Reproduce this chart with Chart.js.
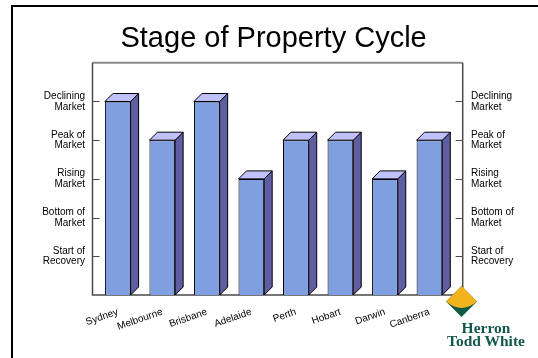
<!DOCTYPE html>
<html>
<head>
<meta charset="utf-8">
<title>Stage of Property Cycle</title>
<script src="https://cdn.jsdelivr.net/npm/chart.js@4/dist/chart.umd.min.js"></script>
<style>
  html, body { margin: 0; padding: 0; background: #fff; overflow: hidden; }
  #wrap { position: relative; width: 538px; height: 358px; overflow: hidden; }
  #frame { position: absolute; left: 11px; top: 5px; width: 600px; height: 400px; border: 2px solid #000; }
  #cycle { position: absolute; left: 0; top: 0; }
  #logo-mark { position: absolute; left: 446px; top: 286px; }
  #logo-text {
    position: absolute; left: 444px; top: 322px; width: 84px;
    font-family: "Liberation Serif", "DejaVu Serif", serif; font-weight: bold;
    font-size: 15.5px; line-height: 12.5px;
    color: #13594a; text-align: center;
  }
</style>
</head>
<body>
<div id="wrap">
  <div id="frame"></div>
  <canvas id="cycle" width="538" height="358"></canvas>
  <svg id="logo-mark" width="31" height="31" viewBox="0 0 31 31">
    <polygon points="15.5,0 31,15.5 15.5,31 0,15.5" fill="#0f5a45"/>
    <path d="M15.5 0 L31 15.5 Q15.5 28.5 0 15.5 Z" fill="#f3b31e"/>
  </svg>
  <div id="logo-text">Herron<br>Todd White</div>
</div>
<script>
// cities and the cycle stage each one sits at (1 = start of recovery ... 5 = declining)
const cities = ['Sydney', 'Melbourne', 'Brisbane', 'Adelaide', 'Perth', 'Hobart', 'Darwin', 'Canberra'];
const stages = [5, 4, 5, 3, 4, 4, 3, 4];
const stageLabels = [
    ['Start of', 'Recovery'],
    ['Bottom of', 'Market'],
    ['Rising', 'Market'],
    ['Peak of', 'Market'],
    ['Declining', 'Market']
];

const FONT = '"Liberation Sans", Arial, sans-serif';
const DEPTH = 8;              // 3d offset of the bars, px
const FRONT = '#809fe0';
const SIDE = '#5f5ea2';
const TOP = '#c0c0fb';

const stageTick = v => stageLabels[v - 1] || '';

// frame box with inward ticks, plus the side/top faces of each bar
const bars3d = {
    id: 'bars3d',
    beforeDatasetsDraw(chart) {
        const { ctx, chartArea: a, scales: { y } } = chart;
        const left = a.left - 3;
        const right = a.right + DEPTH + 3;
        ctx.save();
        ctx.lineWidth = 2;
        ctx.strokeStyle = '#8a8a8a';
        ctx.beginPath();
        ctx.moveTo(left, a.top);
        ctx.lineTo(right, a.top);
        ctx.stroke();
        ctx.lineWidth = 1.5;
        ctx.strokeStyle = '#4a4a4a';
        ctx.beginPath();
        ctx.moveTo(left, a.top);
        ctx.lineTo(left, a.bottom);
        ctx.lineTo(right, a.bottom);
        ctx.lineTo(right, a.top);
        ctx.stroke();
        ctx.lineWidth = 1;
        ctx.beginPath();
        for (let v = 1; v <= stageLabels.length; v++) {
            const py = Math.round(y.getPixelForValue(v)) + 0.5;
            ctx.moveTo(left, py);
            ctx.lineTo(left + 7, py);
            ctx.moveTo(right, py);
            ctx.lineTo(right - 7, py);
        }
        ctx.stroke();
        ctx.restore();
    },
    afterDatasetsDraw(chart) {
        const { ctx } = chart;
        const meta = chart.getDatasetMeta(0);
        ctx.save();
        ctx.lineWidth = 1;
        ctx.strokeStyle = '#000';
        ctx.lineJoin = 'round';
        meta.data.forEach(bar => {
            const { x, y, base, width } = bar.getProps(['x', 'y', 'base', 'width'], true);
            const l = x - width / 2;
            const r = x + width / 2;
            // right side face
            ctx.beginPath();
            ctx.moveTo(r, y);
            ctx.lineTo(r + DEPTH, y - DEPTH);
            ctx.lineTo(r + DEPTH, base - DEPTH);
            ctx.lineTo(r, base);
            ctx.closePath();
            ctx.fillStyle = SIDE;
            ctx.fill();
            ctx.stroke();
            // top face
            ctx.beginPath();
            ctx.moveTo(l, y);
            ctx.lineTo(l + DEPTH, y - DEPTH);
            ctx.lineTo(r + DEPTH, y - DEPTH);
            ctx.lineTo(r, y);
            ctx.closePath();
            ctx.fillStyle = TOP;
            ctx.fill();
            ctx.stroke();
        });
        ctx.restore();
    }
};

new Chart(document.getElementById('cycle'), {
    type: 'bar',
    data: {
        labels: cities,
        datasets: [{
            data: stages,
            backgroundColor: FRONT,
            borderColor: '#000',
            borderWidth: 1,
            categoryPercentage: 1,
            barPercentage: 0.577
        }]
    },
    plugins: [bars3d],
    options: {
        responsive: false,
        animation: false,
        layout: { padding: 0 },
        plugins: {
            legend: { display: false },
            tooltip: { enabled: false },
            title: {
                display: true,
                text: 'Stage of Property Cycle',
                color: '#000',
                fullSize: false,
                font: { family: FONT, size: 29, weight: 'normal', lineHeight: 1.2 },
                padding: { top: 22, bottom: 6 }
            }
        },
        scales: {
            x: {
                grid: { display: false, drawTicks: false },
                border: { display: false },
                ticks: {
                    color: '#000',
                    font: { family: FONT, size: 10 },
                    minRotation: 19,
                    maxRotation: 19,
                    autoSkip: false,
                    padding: 11
                },
                afterFit: s => { s.height = 63; }
            },
            y: {
                position: 'left',
                min: 0,
                max: 6,
                grid: { display: false, drawTicks: false },
                border: { display: false },
                ticks: {
                    stepSize: 1,
                    color: '#000',
                    font: { family: FONT, size: 10, lineHeight: 1.05 },
                    padding: 10.5,
                    callback: stageTick
                },
                afterFit: s => { s.width = 95.5; }
            },
            y2: {
                position: 'right',
                min: 0,
                max: 6,
                grid: { display: false, drawTicks: false },
                border: { display: false },
                ticks: {
                    stepSize: 1,
                    color: '#000',
                    font: { family: FONT, size: 10, lineHeight: 1.05 },
                    padding: 19.3,
                    callback: stageTick
                },
                afterFit: s => { s.width = 86.3; }
            }
        }
    }
});
</script>
</body>
</html>
